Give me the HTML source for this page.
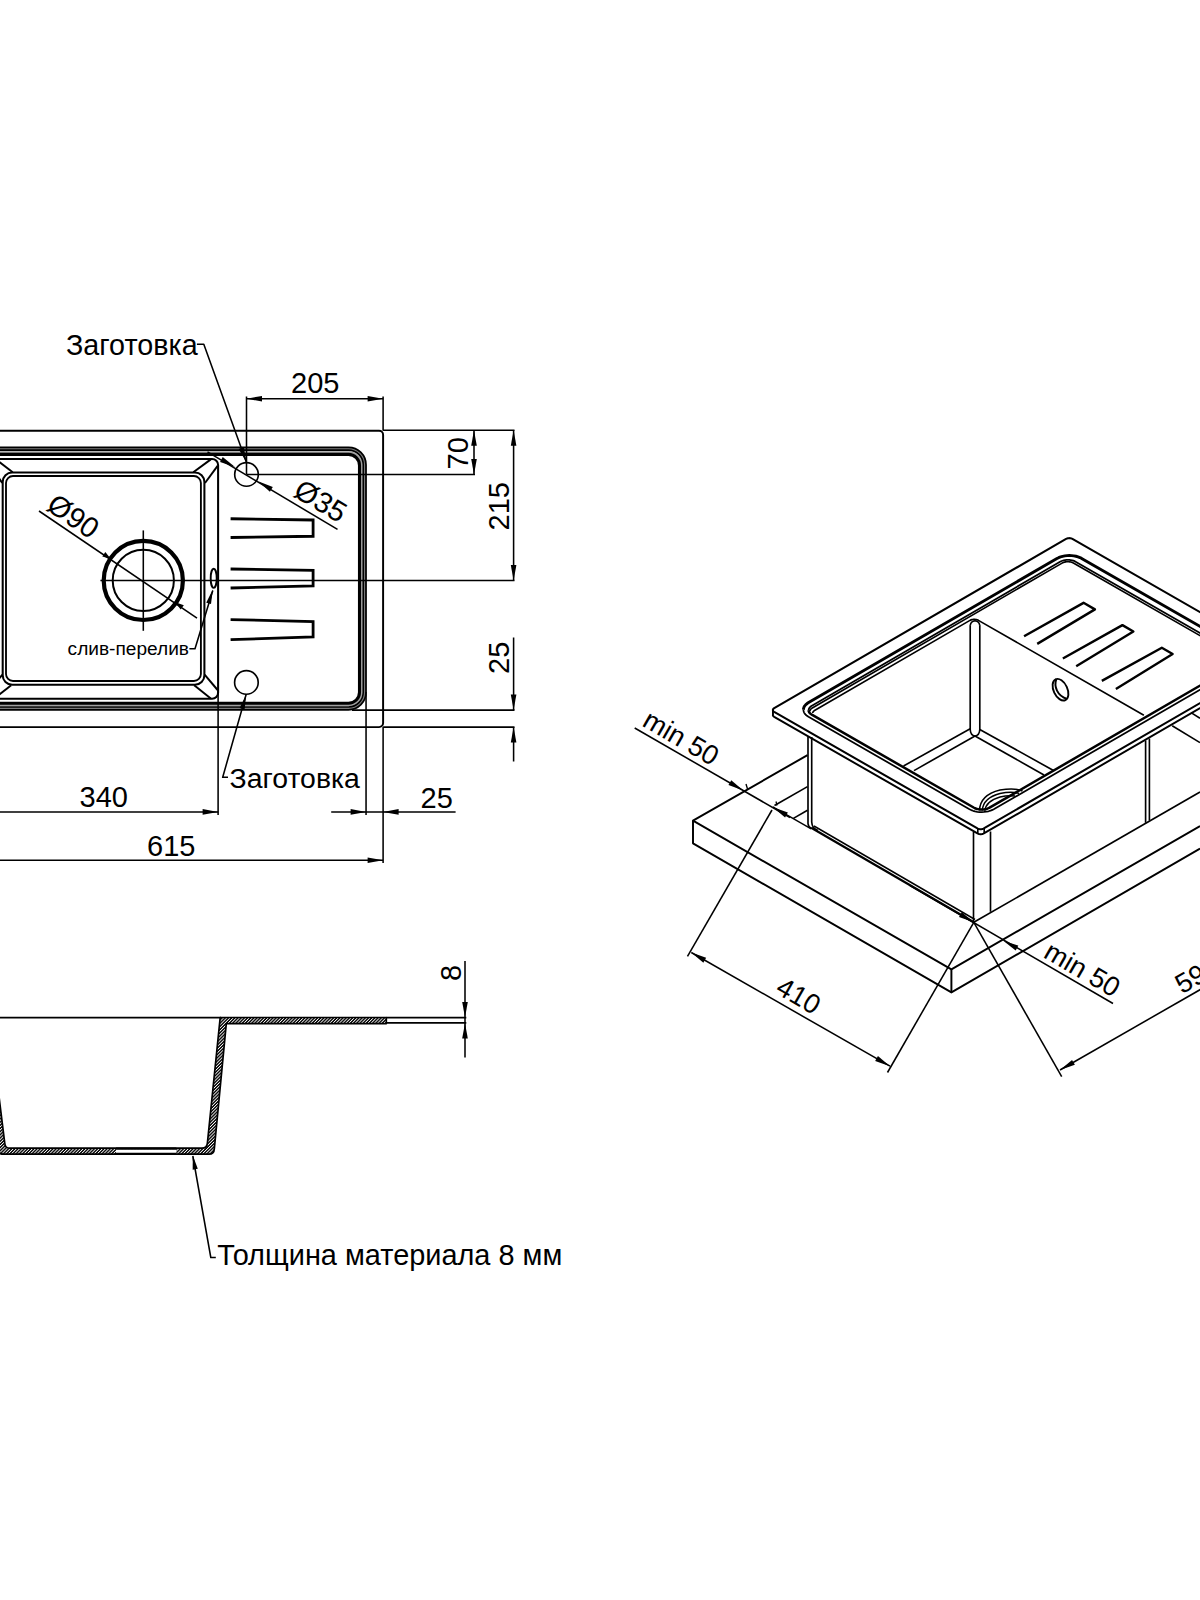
<!DOCTYPE html>
<html><head><meta charset="utf-8"><style>
html,body{margin:0;padding:0;background:#fff;}
svg{display:block;}
text{font-family:"Liberation Sans", sans-serif;fill:#000;}
</style></head><body>
<svg width="1200" height="1600" viewBox="0 0 1200 1600">
<rect width="1200" height="1600" fill="#fff"/>
<defs>
<pattern id="hat" patternUnits="userSpaceOnUse" width="2.25" height="2.25" patternTransform="rotate(45)">
<rect width="2.25" height="2.25" fill="#000"/><rect width="0.85" height="2.25" fill="#fff"/>
</pattern>
</defs>
<path d="M-36 430.75 H379.1 A4 4 0 0 1 383.1 434.75 V723.1 A4 4 0 0 1 379.1 727.1 H-36 A4 4 0 0 1 -40 723.1 V434.75 A4 4 0 0 1 -36 430.75 Z" stroke="#000" stroke-width="1.95" fill="none" stroke-linejoin="round"/>
<path d="M-13.9 448.65 H348.5 A16.1 16.1 0 0 1 364.6 464.75 V692.3 A16.1 16.1 0 0 1 348.5 708.4 H-13.9 A16.1 16.1 0 0 1 -30 692.3 V464.75 A16.1 16.1 0 0 1 -13.9 448.65 Z" stroke="#7a7a7a" stroke-width="3.0" fill="none" stroke-linejoin="round"/>
<path d="M-12.2 452.2 H348.55 A12.8 12.8 0 0 1 361.35 465 V692.3 A12.8 12.8 0 0 1 348.55 705.1 H-12.2 A12.8 12.8 0 0 1 -25 692.3 V465 A12.8 12.8 0 0 1 -12.2 452.2 Z" stroke="#a0a0a0" stroke-width="2.1" fill="none" stroke-linejoin="round"/>
<path d="M-12.5 447.25 H348.5 A17.5 17.5 0 0 1 366 464.75 V692.3 A17.5 17.5 0 0 1 348.5 709.8 H-12.5 A17.5 17.5 0 0 1 -30 692.3 V464.75 A17.5 17.5 0 0 1 -12.5 447.25 Z" stroke="#000" stroke-width="1.75" fill="none" stroke-linejoin="round"/>
<path d="M-12.3 450.05 H348.5 A14.7 14.7 0 0 1 363.2 464.75 V692.3 A14.7 14.7 0 0 1 348.5 707 H-12.3 A14.7 14.7 0 0 1 -27 692.3 V464.75 A14.7 14.7 0 0 1 -12.3 450.05 Z" stroke="#000" stroke-width="1.65" fill="none" stroke-linejoin="round"/>
<path d="M-12 454.4 H348.5 A11 11 0 0 1 359.5 465.4 V692.2 A11 11 0 0 1 348.5 703.2 H-12 A11 11 0 0 1 -23 692.2 V465.4 A11 11 0 0 1 -12 454.4 Z" stroke="#000" stroke-width="3.1" fill="none" stroke-linejoin="round"/>
<path d="M-6 459 H212.1 A6 6 0 0 1 218.1 465 V692.75 A6 6 0 0 1 212.1 698.75 H-6 A6 6 0 0 1 -12 692.75 V465 A6 6 0 0 1 -6 459 Z" stroke="#000" stroke-width="2.05" fill="none" stroke-linejoin="round"/>
<path d="M12.2 472.5 H194.9 A9.5 9.5 0 0 1 204.4 482 V675.3 A9.5 9.5 0 0 1 194.9 684.8 H12.2 A9.5 9.5 0 0 1 2.7 675.3 V482 A9.5 9.5 0 0 1 12.2 472.5 Z" stroke="#000" stroke-width="2.05" fill="none" stroke-linejoin="round"/>
<path d="M13 476 H193.9 A7 7 0 0 1 200.9 483 V674 A7 7 0 0 1 193.9 681 H13 A7 7 0 0 1 6 674 V483 A7 7 0 0 1 13 476 Z" stroke="#000" stroke-width="1.85" fill="none" stroke-linejoin="round"/>
<line x1="193.3" y1="472.3" x2="210.8" y2="459.4" stroke="#000" stroke-width="1.95"/>
<line x1="205" y1="483" x2="217.6" y2="465.8" stroke="#000" stroke-width="1.95"/>
<line x1="204.6" y1="674.6" x2="217.6" y2="690" stroke="#000" stroke-width="1.95"/>
<line x1="194.2" y1="685.2" x2="210.8" y2="698.4" stroke="#000" stroke-width="1.95"/>
<line x1="-5" y1="458.6" x2="12.7" y2="472.3" stroke="#000" stroke-width="1.95"/>
<line x1="2.3" y1="482.9" x2="-5" y2="472.9" stroke="#000" stroke-width="1.95"/>
<line x1="11.2" y1="685.2" x2="-5" y2="698.1" stroke="#000" stroke-width="1.95"/>
<line x1="2.5" y1="674.6" x2="-5" y2="683.5" stroke="#000" stroke-width="1.95"/>
<circle cx="143.3" cy="580.4" r="39.6" stroke="#000" stroke-width="4.2" fill="none"/>
<circle cx="143.3" cy="580.4" r="30.6" stroke="#000" stroke-width="2.0" fill="none"/>
<line x1="143.3" y1="530.4" x2="143.3" y2="630.8" stroke="#000" stroke-width="1.55"/>
<line x1="100.4" y1="580.4" x2="514.5" y2="580.4" stroke="#000" stroke-width="1.55"/>
<line x1="39" y1="511" x2="197" y2="618.2" stroke="#000" stroke-width="1.55"/>
<path d="M110.9 558.9 L102.33 556.43 L105.32 551.94 Z" fill="#000"/>
<path d="M175.4 602.3 L183.85 605.16 L180.64 609.51 Z" fill="#000"/>
<ellipse cx="213.7" cy="578.3" rx="3.0" ry="9.6" stroke="#000" stroke-width="1.9" fill="none"/>
<path d="M230.6 518.75 L313.1 520 L313.1 536.25 L230.6 537.5" stroke="#000" stroke-width="2.8" fill="none" stroke-linejoin="miter"/>
<path d="M230.6 569 L313.1 570.4 L313.1 586 L230.6 588" stroke="#000" stroke-width="2.8" fill="none" stroke-linejoin="miter"/>
<path d="M230.6 619.6 L313.1 621.6 L313.1 637 L230.6 639.6" stroke="#000" stroke-width="2.8" fill="none" stroke-linejoin="miter"/>
<circle cx="246.5" cy="474.4" r="11.8" stroke="#000" stroke-width="1.65" fill="none"/>
<circle cx="246.4" cy="682.4" r="11.8" stroke="#000" stroke-width="1.65" fill="none"/>
<line x1="246.5" y1="396.5" x2="246.5" y2="474.4" stroke="#000" stroke-width="1.55"/>
<line x1="383.1" y1="396.5" x2="383.1" y2="430.75" stroke="#000" stroke-width="1.55"/>
<line x1="246.5" y1="398.7" x2="383.1" y2="398.7" stroke="#000" stroke-width="1.55"/>
<path d="M246.5 398.7 L262 395.9 L262 401.5 Z" fill="#000"/>
<path d="M383.1 398.7 L367.6 401.5 L367.6 395.9 Z" fill="#000"/>
<text x="291" y="393.4" font-size="29" text-anchor="start">205</text>
<line x1="383.1" y1="430.3" x2="514.5" y2="430.3" stroke="#000" stroke-width="1.55"/>
<line x1="246.5" y1="474.4" x2="475" y2="474.4" stroke="#000" stroke-width="1.55"/>
<line x1="474" y1="430.3" x2="474" y2="474.4" stroke="#000" stroke-width="1.55"/>
<path d="M474 430.3 L476.8 445.8 L471.2 445.8 Z" fill="#000"/>
<path d="M474 474.4 L471.2 458.9 L476.8 458.9 Z" fill="#000"/>
<text transform="translate(467.8 469.5) rotate(-90)" font-size="29" text-anchor="start">70</text>
<line x1="513.6" y1="430.3" x2="513.6" y2="580.4" stroke="#000" stroke-width="1.55"/>
<path d="M513.6 430.3 L516.4 445.8 L510.8 445.8 Z" fill="#000"/>
<path d="M513.6 580.4 L510.8 564.9 L516.4 564.9 Z" fill="#000"/>
<text transform="translate(509 530.5) rotate(-90)" font-size="29" text-anchor="start">215</text>
<line x1="352" y1="710.1" x2="514.5" y2="710.1" stroke="#000" stroke-width="1.55"/>
<line x1="383.1" y1="727.1" x2="514.5" y2="727.1" stroke="#000" stroke-width="1.55"/>
<line x1="513.6" y1="637.5" x2="513.6" y2="710.1" stroke="#000" stroke-width="1.55"/>
<path d="M513.6 710.1 L510.8 694.6 L516.4 694.6 Z" fill="#000"/>
<line x1="513.6" y1="727.1" x2="513.6" y2="761.5" stroke="#000" stroke-width="1.55"/>
<path d="M513.6 727.1 L516.4 742.6 L510.8 742.6 Z" fill="#000"/>
<text transform="translate(508.9 674) rotate(-90)" font-size="29" text-anchor="start">25</text>
<line x1="218.1" y1="690" x2="218.1" y2="815" stroke="#000" stroke-width="1.55"/>
<line x1="366.05" y1="692" x2="366.05" y2="815" stroke="#000" stroke-width="1.55"/>
<line x1="383.1" y1="727.1" x2="383.1" y2="863" stroke="#000" stroke-width="1.55"/>
<line x1="-2" y1="811.9" x2="218.1" y2="811.9" stroke="#000" stroke-width="1.55"/>
<path d="M218.1 811.9 L202.6 814.7 L202.6 809.1 Z" fill="#000"/>
<text x="79.5" y="807.2" font-size="29" text-anchor="start">340</text>
<line x1="331.2" y1="811.9" x2="455.6" y2="811.9" stroke="#000" stroke-width="1.55"/>
<path d="M366.1 811.9 L350.6 814.7 L350.6 809.1 Z" fill="#000"/>
<path d="M383.1 811.9 L398.6 809.1 L398.6 814.7 Z" fill="#000"/>
<text x="420.5" y="807.6" font-size="29" text-anchor="start">25</text>
<line x1="-2" y1="860.3" x2="383.1" y2="860.3" stroke="#000" stroke-width="1.55"/>
<path d="M383.1 860.3 L367.6 863.1 L367.6 857.5 Z" fill="#000"/>
<text x="147" y="856.3" font-size="29" text-anchor="start">615</text>
<path d="M196.9 344.3 L203.8 344.3 L246.5 462.6" stroke="#000" stroke-width="1.55" fill="none" stroke-linejoin="round"/>
<path d="M246.5 462.6 L238.6 448.97 L243.87 447.07 Z" fill="#000"/>
<text x="66" y="355" font-size="28.7" text-anchor="start">Заготовка</text>
<path d="M246.2 694.2 L222.7 777.3 L228 777.3" stroke="#000" stroke-width="1.55" fill="none" stroke-linejoin="round"/>
<path d="M246.2 694.4 L244.61 709.54 L239.61 708.12 Z" fill="#000"/>
<text x="229.6" y="788.2" font-size="28.4" text-anchor="start">Заготовка</text>
<path d="M212.8 590.5 L195 648.75 L189.4 648.75" stroke="#000" stroke-width="1.55" fill="none" stroke-linejoin="round"/>
<path d="M212.8 589.5 L211.02 604.11 L206.23 602.67 Z" fill="#000"/>
<text x="67.6" y="655.4" font-size="19.1" text-anchor="start">слив-перелив</text>
<line x1="207.5" y1="451.9" x2="337.5" y2="529.4" stroke="#000" stroke-width="1.55"/>
<path d="M235 466.9 L220.05 461.94 L222.73 457.02 Z" fill="#000"/>
<path d="M258.1 481.25 L272.81 486.89 L269.9 491.68 Z" fill="#000"/>
<text transform="translate(292 495.5) rotate(30.8)" font-size="29" text-anchor="start">Ø35</text>
<text transform="translate(45 509) rotate(34.3)" font-size="29" text-anchor="start">Ø90</text>
<line x1="-2" y1="1017.6" x2="221" y2="1017.6" stroke="#000" stroke-width="1.75"/>
<path d="M386.3 1017.5 L220.2 1017.5 L207.4 1143.2 Q207 1148.2 202 1148.2 L9.6 1148.2 Q5.3 1148.2 4.8 1143.5 L-10.8 1017.5 L-20 1017.5 L-2.5 1149 Q-2 1154.2 3.5 1154.2 L209 1154.2 Q214 1154.2 214.3 1149 L226.3 1023.6 L386.3 1023.6 Z" fill="url(#hat)" stroke="#000" stroke-width="1.7" stroke-linejoin="round"/>
<rect x="116" y="1149.1" width="60.3" height="4.2" fill="#fff"/>
<line x1="116" y1="1148.6" x2="176.3" y2="1148.6" stroke="#000" stroke-width="2.05"/>
<line x1="116" y1="1153.8" x2="176.3" y2="1153.8" stroke="#000" stroke-width="2.05"/>
<line x1="386.3" y1="1017.6" x2="466.3" y2="1017.6" stroke="#000" stroke-width="1.75"/>
<line x1="386.3" y1="1022.8" x2="466.3" y2="1022.8" stroke="#000" stroke-width="1.75"/>
<line x1="465" y1="961" x2="465" y2="1057.5" stroke="#000" stroke-width="1.55"/>
<path d="M465 1017.4 L462.2 1001.9 L467.8 1001.9 Z" fill="#000"/>
<path d="M465 1023 L467.8 1038.5 L462.2 1038.5 Z" fill="#000"/>
<text transform="translate(461 981) rotate(-90)" font-size="29" text-anchor="start">8</text>
<path d="M192.8 1156 L210.8 1257.5 L215.8 1257.5" stroke="#000" stroke-width="1.55" fill="none" stroke-linejoin="round"/>
<path d="M192.8 1155.5 L197.79 1168.84 L192.67 1169.74 Z" fill="#000"/>
<text x="217.3" y="1265.4" font-size="28.9" text-anchor="start">Толщина материала 8 мм</text>
<path d="M1066.07 538.91 L1066.61 538.64 L1067.21 538.43 L1067.86 538.27 L1068.55 538.17 L1069.25 538.13 L1069.96 538.16 L1070.64 538.25 L1071.29 538.4 L1071.89 538.61 L1072.42 538.87 L1275.71 655.51 L1276.17 655.82 L1276.53 656.16 L1276.8 656.53 L1276.96 656.93 L1277.01 657.33 L1276.95 657.74 L1276.78 658.14 L1276.51 658.51 L1276.14 658.86 L1275.68 659.18 L983.82 828.43 L983.29 828.69 L982.68 828.91 L982.03 829.07 L981.34 829.17 L980.64 829.2 L979.94 829.18 L979.25 829.09 L978.6 828.93 L978 828.73 L977.47 828.47 L774.18 711.83 L773.73 711.52 L773.36 711.17 L773.1 710.8 L772.94 710.41 L772.88 710 L772.94 709.59 L773.11 709.2 L773.39 708.82 L773.76 708.47 L774.22 708.16 Z" stroke="#000" stroke-width="2.05" fill="none" stroke-linejoin="round"/>
<path d="M1277.01 662.33 L1276.97 662.67 L1276.85 663.01 L1276.66 663.33 L1276.4 663.63 L1276.07 663.92 L1275.68 664.18 L983.82 833.43 L983.38 833.65 L982.89 833.84 L982.36 834 L981.8 834.11 L981.23 834.18 L980.64 834.2 L980.05 834.19 L979.48 834.12 L978.92 834.02 L978.4 833.87 L977.91 833.69 L977.47 833.47 L774.18 716.83 L773.8 716.57 L773.47 716.29 L773.22 715.99 L773.03 715.67 L772.92 715.34 L772.88 715" stroke="#000" stroke-width="1.95" fill="none" stroke-linejoin="round"/>
<line x1="772.95" y1="709.5" x2="772.95" y2="715.2" stroke="#000" stroke-width="1.95"/>
<path d="M1247.69 657.89 L1247.53 659.2 L1247.07 660.5 L1246.32 661.75 L1245.3 662.94 L1244.02 664.05 L1242.5 665.05 L994.18 809.05 L992.45 809.93 L990.55 810.68 L988.49 811.27 L986.32 811.71 L984.08 811.98 L981.79 812.08 L979.51 812.01 L977.27 811.77 L975.11 811.36 L973.07 810.79 L971.18 810.07 L969.47 809.21 L808.45 716.82 L806.95 715.84 L805.69 714.75 L804.69 713.58 L803.97 712.33 L803.54 711.04 L803.4 709.73" stroke="#000" stroke-width="1.75" fill="none" stroke-linejoin="round"/>
<path d="M803.4 709.73 L803.56 708.41 L804.02 707.11 L804.77 705.86 L805.79 704.67 L807.07 703.57 L808.59 702.57 L1056.91 558.56 L1058.64 557.68 L1060.55 556.93 L1062.6 556.34 L1064.77 555.9 L1067.02 555.63 L1069.3 555.53 L1071.58 555.6 L1073.82 555.84 L1075.98 556.25 L1078.02 556.82 L1079.92 557.55 L1081.63 558.4 L1242.64 650.79 L1244.14 651.77 L1245.4 652.86 L1246.4 654.04 L1247.12 655.28 L1247.55 656.57 L1247.69 657.89" stroke="#000" stroke-width="2.9" fill="none" stroke-linejoin="round"/>
<path d="M1241.05 659.23 L1240.94 660.06 L1240.66 660.87 L1240.19 661.66 L1239.54 662.41 L1238.74 663.1 L1237.78 663.73 L989.6 807.66 L988.52 808.21 L987.32 808.68 L986.03 809.05 L984.66 809.33 L983.25 809.5 L981.82 809.56 L980.39 809.52 L978.98 809.36 L977.62 809.1 L976.33 808.75 L975.14 808.29 L974.07 807.75 L811.79 714.64 L810.85 714.03 L810.06 713.34 L809.43 712.6 L808.98 711.82 L808.7 711.01 L808.62 710.18" stroke="#000" stroke-width="2.5" fill="none" stroke-linejoin="round"/>
<path d="M808.62 710.18 L808.72 709.36 L809.01 708.54 L809.48 707.75 L810.12 707.01 L810.92 706.31 L811.88 705.68 L1060.06 561.76 L1061.14 561.2 L1062.34 560.74 L1063.63 560.36 L1065 560.09 L1066.41 559.92 L1067.84 559.85 L1069.28 559.9 L1070.68 560.05 L1072.04 560.31 L1073.33 560.67 L1074.52 561.12 L1075.59 561.66 L1237.87 654.77 L1238.81 655.39 L1239.6 656.07 L1240.23 656.81 L1240.69 657.59 L1240.96 658.4 L1241.05 659.23" stroke="#000" stroke-width="1.75" fill="none" stroke-linejoin="round"/>
<path d="M809.91 711.23 L809.98 710.63 L810.19 710.04 L810.53 709.47 L811 708.92 L811.59 708.42 L812.28 707.96 L1062.09 563.09 L1062.88 562.69 L1063.75 562.35 L1064.69 562.07 L1065.69 561.87 L1066.71 561.75 L1067.75 561.7 L1068.8 561.74 L1069.82 561.85 L1070.81 562.04 L1071.74 562.3 L1072.61 562.63 L1073.39 563.02 L1237.5 657.18 L1238.18 657.62 L1238.76 658.12 L1239.21 658.66 L1239.54 659.23 L1239.74 659.82 L1239.8 660.42" stroke="#000" stroke-width="1.65" fill="none" stroke-linejoin="round"/>
<path d="M812.74 713.01 L812.79 712.56 L812.95 712.11 L813.2 711.68 L813.55 711.27 L813.99 710.9 L814.51 710.55 L969.95 620.41 L970.55 620.11 L971.2 619.85 L971.91 619.65 L972.65 619.5 L973.42 619.41 L974.2 619.37 L974.98 619.4 L975.75 619.48 L976.49 619.62 L977.19 619.82 L977.84 620.06 L978.43 620.36 L1143.87 715.28" stroke="#000" stroke-width="1.65" fill="none" stroke-linejoin="round"/>
<path d="M1024.06 636.3 L1083.53 602.83 L1094.94 609.38 L1037.23 643.86" stroke="#000" stroke-width="2.4" fill="none" stroke-linejoin="round"/>
<path d="M1062.86 658.56 L1122.43 625.15 L1133.38 631.44 L1076.2 666.22" stroke="#000" stroke-width="2.4" fill="none" stroke-linejoin="round"/>
<path d="M1101.83 680.92 L1161.82 647.75 L1172.64 653.96 L1115.88 688.98" stroke="#000" stroke-width="2.4" fill="none" stroke-linejoin="round"/>
<path d="M970.2 625.5 L970.2 729.5 Q970.5 735.5 975 736 Q979.5 735.5 979.8 729.5 L979.8 625.5" stroke="#000" stroke-width="1.65" fill="none" stroke-linejoin="round"/>
<path d="M970.2 625.8 Q970.6 621.2 975 620.8 Q979.4 621.2 979.8 625.8" stroke="#000" stroke-width="1.65" fill="none" stroke-linejoin="round"/>
<line x1="970.2" y1="728.8" x2="903.5" y2="766" stroke="#000" stroke-width="1.65"/>
<line x1="975" y1="736" x2="914" y2="770.6" stroke="#000" stroke-width="1.65"/>
<line x1="979.8" y1="729.5" x2="1053.5" y2="770.5" stroke="#000" stroke-width="1.65"/>
<line x1="975" y1="736" x2="1044" y2="775" stroke="#000" stroke-width="1.65"/>
<ellipse cx="1060.5" cy="689.7" rx="6.9" ry="11.5" transform="rotate(-25 1060.5 689.7)" stroke="#000" stroke-width="1.9" fill="none"/>
<path d="M1056.4 678.9 C1053.6 686.5 1057.2 695.8 1067.2 699.0" stroke="#000" stroke-width="1.95" fill="none" stroke-linejoin="round"/>
<path d="M979.5 810.5 Q980 795 1000 790 Q1015 787.5 1022.5 791" stroke="#000" stroke-width="1.55" fill="none" stroke-linejoin="round"/>
<path d="M982.3 810.5 Q983 798 1000 793.5 Q1012 791 1019 793.5" stroke="#000" stroke-width="1.45" fill="none" stroke-linejoin="round"/>
<path d="M984.8 810.8 Q986 801 1000 797 Q1008 795 1015 796" stroke="#000" stroke-width="1.45" fill="none" stroke-linejoin="round"/>
<path d="M808.0 736.5 L808.0 823.5 Q808.3 827.3 811.5 828.5" stroke="#000" stroke-width="1.65" fill="none" stroke-linejoin="round"/>
<path d="M811.7 737 L811.7 822 Q812 828.5 818 830.5" stroke="#000" stroke-width="1.65" fill="none" stroke-linejoin="round"/>
<line x1="973.5" y1="832" x2="973.5" y2="921.5" stroke="#000" stroke-width="1.65"/>
<line x1="990.5" y1="831.5" x2="990.5" y2="911.8" stroke="#000" stroke-width="1.65"/>
<line x1="977.8" y1="829" x2="977.8" y2="833" stroke="#000" stroke-width="1.65"/>
<line x1="984.2" y1="829" x2="984.2" y2="833" stroke="#000" stroke-width="1.65"/>
<line x1="1145.6" y1="740.5" x2="1145.6" y2="822.8" stroke="#000" stroke-width="1.65"/>
<line x1="1149.4" y1="738.5" x2="1149.4" y2="820.5" stroke="#000" stroke-width="1.65"/>
<line x1="811.2" y1="827.8" x2="973.8" y2="922.3" stroke="#000" stroke-width="2.2"/>
<line x1="814" y1="826" x2="975" y2="919.5" stroke="#000" stroke-width="1.45"/>
<line x1="973.8" y1="922.3" x2="1200" y2="792" stroke="#000" stroke-width="1.65"/>
<line x1="1172.2" y1="725.8" x2="1200" y2="742.6" stroke="#000" stroke-width="1.65"/>
<line x1="1191" y1="712.6" x2="1200" y2="718.2" stroke="#000" stroke-width="1.65"/>
<path d="M807.5 755.1 L693 820.7 L693 843.3 L951.4 992.4 L1200 848.5" stroke="#000" stroke-width="1.95" fill="none" stroke-linejoin="round"/>
<path d="M693 820.7 L951.4 969.3 L1200 826" stroke="#000" stroke-width="1.95" fill="none" stroke-linejoin="round"/>
<line x1="951.4" y1="969.3" x2="951.4" y2="992.4" stroke="#000" stroke-width="1.95"/>
<line x1="774.5" y1="805.5" x2="807.5" y2="786.6" stroke="#000" stroke-width="1.65"/>
<line x1="793.4" y1="818.4" x2="807.5" y2="810.3" stroke="#000" stroke-width="1.65"/>
<line x1="772.8" y1="806.8" x2="811.2" y2="828.9" stroke="#000" stroke-width="1.45"/>
<line x1="634.7" y1="728" x2="790" y2="817.5" stroke="#000" stroke-width="1.55"/>
<path d="M743.3 790.4 L728.47 785.11 L731.26 780.25 Z" fill="#000"/>
<path d="M773 807.3 L787.86 812.52 L785.09 817.39 Z" fill="#000"/>
<line x1="746" y1="784" x2="747.5" y2="789" stroke="#000" stroke-width="1.35"/>
<line x1="776" y1="801.5" x2="777" y2="805.5" stroke="#000" stroke-width="1.35"/>
<text transform="translate(641 725.3) rotate(30)" font-size="27.3" text-anchor="start">min 50</text>
<line x1="772" y1="810" x2="687.5" y2="956.3" stroke="#000" stroke-width="1.55"/>
<line x1="973.8" y1="922.3" x2="887.5" y2="1072.5" stroke="#000" stroke-width="1.55"/>
<line x1="691.3" y1="952.5" x2="890" y2="1066.2" stroke="#000" stroke-width="1.55"/>
<path d="M691.3 952.5 L706.14 957.77 L703.36 962.63 Z" fill="#000"/>
<path d="M890 1066.2 L875.16 1060.93 L877.94 1056.07 Z" fill="#000"/>
<text transform="translate(774.3 992.5) rotate(30)" font-size="27.3" text-anchor="start">410</text>
<line x1="973.8" y1="922.3" x2="1061.7" y2="1076.7" stroke="#000" stroke-width="1.55"/>
<line x1="1060" y1="1070" x2="1210" y2="984" stroke="#000" stroke-width="1.55"/>
<path d="M1060 1070 L1072.07 1059.88 L1074.85 1064.74 Z" fill="#000"/>
<text transform="translate(1182 994.5) rotate(-30)" font-size="27.3" text-anchor="start">590</text>
<line x1="910" y1="885.5" x2="1113" y2="1003.5" stroke="#000" stroke-width="1.55"/>
<path d="M973.8 922.3 L958.97 916.98 L961.77 912.13 Z" fill="#000"/>
<path d="M1003.3 940.8 L1018.3 945.62 L1015.66 950.56 Z" fill="#000"/>
<text transform="translate(1042.3 956.8) rotate(30)" font-size="27.3" text-anchor="start">min 50</text>
</svg></body></html>
